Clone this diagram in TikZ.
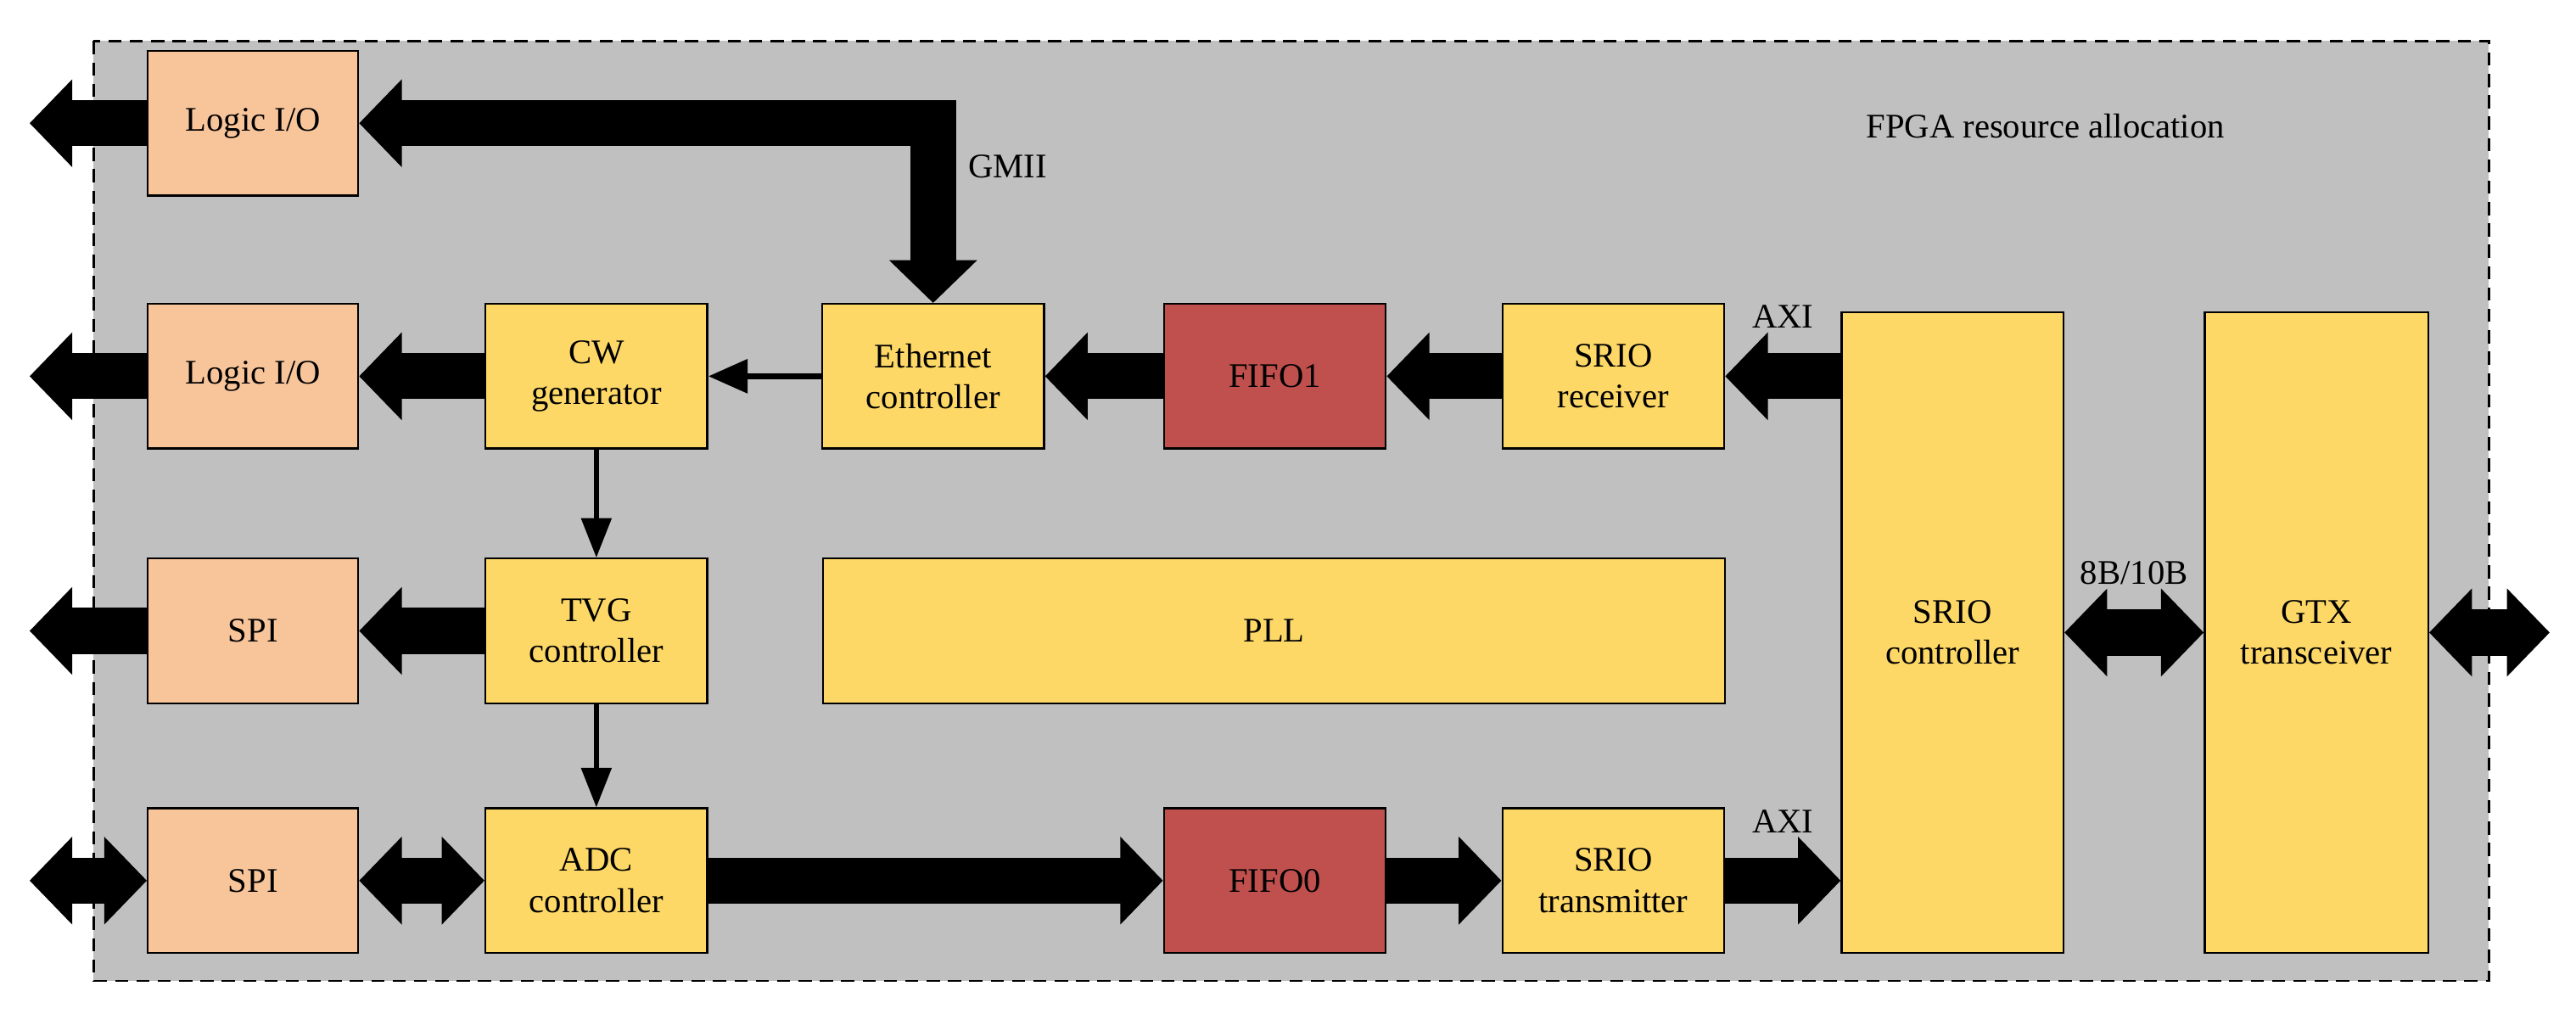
\documentclass[tikz,border=0pt]{standalone}
\usepackage{fontspec}
\setmainfont{Liberation Serif}
\usetikzlibrary{positioning,arrows.meta,calc}
\definecolor{bggray}{HTML}{C0C0C0}
\definecolor{ioorange}{HTML}{F8C59B}
\definecolor{blkyellow}{HTML}{FDD867}
\definecolor{fifored}{HTML}{C0504D}
\tikzset{
    blk/.style={draw, line width=1.2pt, fill=blkyellow, align=center, inner sep=0pt},
    io/.style={blk, fill=ioorange, minimum width=128pt, minimum height=88pt},
    ctl/.style={blk, minimum width=135pt, minimum height=88pt},
    fifo/.style={blk, fill=fifored, minimum width=135pt, minimum height=88pt},
    bus/.style={line width=28pt, -{Triangle[width=52pt,length=26pt]}},
    dbus/.style={line width=28pt, {Triangle[width=52pt,length=26pt]}-{Triangle[width=52pt,length=26pt]}},
    thin/.style={line width=4pt, -{Triangle[width=20pt,length=24pt]}},
}
\begin{document}
\begin{tikzpicture}[x=1pt,y=-1pt, font=\fontsize{21}{25}\selectfont]
    \useasboundingbox (0,0) rectangle (1568,617);
    \draw[dashed, line width=1.2pt, fill=bggray, dash pattern=on 8pt off 5pt] (57,25) rectangle (1515,597);
    \node at (1245,77) {FPGA resource allocation};

    % left column
    \node[io] (io1) at (154,75) {Logic I/O};
    \node[io] (io2) at (154,229) {Logic I/O};
    \node[io] (spi1) at (154,384) {SPI};
    \node[io] (spi2) at (154,536) {SPI};

    % controllers
    \node[ctl] (cw) at (363,229) {CW\\generator};
    \node[ctl] (tvg) at (363,384) {TVG\\controller};
    \node[ctl] (adc) at (363,536) {ADC\\controller};
    \node[ctl] (eth) at (568,229) {Ethernet\\controller};
    \node[fifo] (fifo1) at (776,229) {FIFO1};
    \node[fifo] (fifo0) at (776,536) {FIFO0};
    \node[ctl] (rx) at (982,229) {SRIO\\receiver};
    \node[ctl] (tx) at (982,536) {SRIO\\transmitter};
    \node[blk, minimum width=549pt, minimum height=88pt] (pll) at (775.5,384) {PLL};
    \node[blk, minimum width=135pt, minimum height=390pt] (srio) at (1188.5,385) {SRIO\\controller};
    \node[blk, minimum width=136pt, minimum height=390pt] (gtx) at (1410,385) {GTX\\transceiver};

    \coordinate (out1) at (18,75);
    \coordinate (out2) at (18,229);
    \coordinate (out3) at (18,384);
    \coordinate (out4) at (18,536);
    \coordinate (outr) at (1552,385);

    % buses
    \draw[bus] (io1.west) -- (out1);
    \draw[bus] (io2.west) -- (out2);
    \draw[bus] (spi1.west) -- (out3);
    \draw[dbus] (out4) -- (spi2.west);
    \draw[dbus] (io1.east) -| node[pos=0.62, right=4pt] {GMII} (eth.north);
    \draw[bus] (cw.west) -- (io2.east);
    \draw[bus] (tvg.west) -- (spi1.east);
    \draw[dbus] (spi2.east) -- (adc.west);
    \draw[thin] (eth.west) -- (cw.east);
    \draw[line width=3pt, -{Triangle[width=18pt,length=24pt]}] (cw.south) -- (tvg.north);
    \draw[line width=3pt, -{Triangle[width=18pt,length=24pt]}] (tvg.south) -- (adc.north);
    \draw[bus] (fifo1.west) -- (eth.east);
    \draw[bus] (rx.west) -- (fifo1.east);
    \draw[bus] (srio.west |- rx.west) -- node[above=12pt] {AXI} (rx.east);
    \draw[bus] (adc.east) -- (fifo0.west);
    \draw[bus] (fifo0.east) -- (tx.west);
    \draw[bus] (tx.east) -- node[above=12pt] {AXI} (srio.west |- tx.east);
    \draw[dbus] (srio.east) -- node[above=12pt] {8B/10B} (gtx.west);
    \draw[dbus] (gtx.east) -- (outr);
\end{tikzpicture}
\end{document}
